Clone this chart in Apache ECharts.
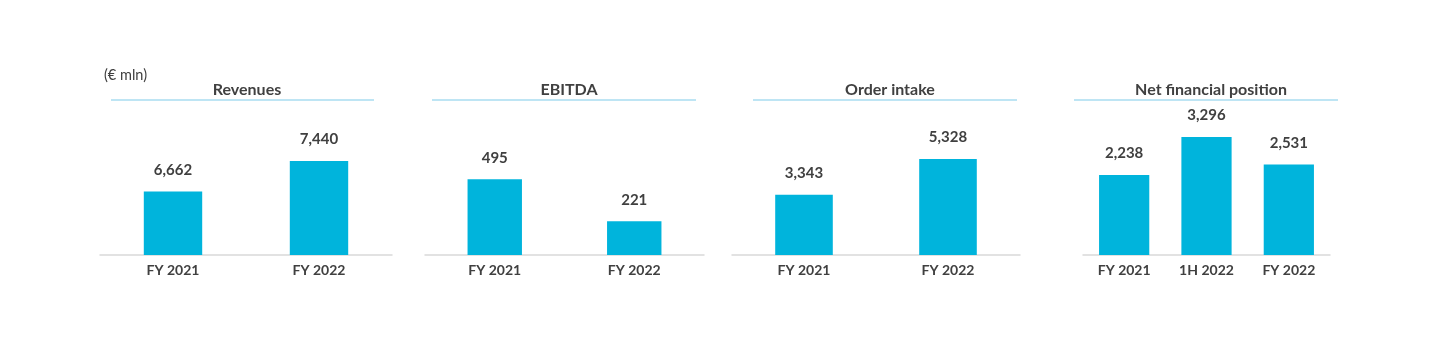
<!DOCTYPE html>
<html>
<head>
<meta charset="utf-8">
<script src="https://cdn.jsdelivr.net/npm/echarts@6/dist/echarts.min.js"></script>
<style>
html,body{margin:0;padding:0;background:#fff;}
#chart{width:1440px;height:355px;}
</style>
</head>
<body>
<div id="chart"></div>
<script>
// ---- data ----
const unitLabel = '(€ mln)';
const revenuesTitle = 'Revenues';
const revenuesCats = ['FY 2021', 'FY 2022'];
const revenuesVals = [6662, 7440];

const ebitdaTitle = 'EBITDA';
const ebitdaCats = ['FY 2021', 'FY 2022'];
const ebitdaVals = [495, 221];

const orderTitle = 'Order intake';
const orderCats = ['FY 2021', 'FY 2022'];
const orderVals = [3343, 5328];

const nfpTitle = 'Net financial position';
const nfpCats = ['FY 2021', '1H 2022', 'FY 2022'];
const nfpVals = [2238, 3296, 2531];

// ---- layout/style ----
const FONT = 'Lato, "Open Sans", sans-serif';
const TXT = '#404040';
const BAR = '#00B4DC';
const panels = [
  {title: revenuesTitle, cats: revenuesCats, vals: revenuesVals, left: 100, width: 292, min: 5050, max: 8864, bw: '40%', tc: 242, ul: [111, 374]},
  {title: ebitdaTitle, cats: ebitdaCats, vals: ebitdaVals, left: 425, width: 279, min: 0, max: 980, bw: '39%', tc: 564, ul: [432, 696]},
  {title: orderTitle, cats: orderCats, vals: orderVals, left: 732, width: 288, min: 0, max: 8333, bw: '40%', tc: 885, ul: [753, 1017]},
  {title: nfpTitle, cats: nfpCats, vals: nfpVals, left: 1083, width: 247, min: 0, max: 4190, bw: '61%', tc: 1206, ul: [1074, 1338]}
];

const chart = echarts.init(document.getElementById('chart'), null, {renderer: 'canvas'});
const option = {
  animation: false,
  backgroundColor: '#ffffff',
  title: [
    {text: unitLabel, left: 99, top: 63, textStyle: {fontFamily: FONT, fontSize: 14.5, fontWeight: 'normal', color: TXT}}
  ].concat(panels.map(p => ({
    text: p.title, left: p.tc, top: 77, textAlign: 'center',
    textStyle: {fontFamily: FONT, fontSize: 16, fontWeight: 'bold', color: TXT}
  }))),
  grid: panels.map(p => ({left: p.left, width: p.width, top: 105, bottom: 100})),
  xAxis: panels.map((p, i) => ({
    type: 'category', gridIndex: i, data: p.cats,
    axisLine: {lineStyle: {color: '#D9D9D9', width: 1.5}},
    axisTick: {show: false},
    axisLabel: {margin: 8, fontFamily: FONT, fontSize: 14, fontWeight: 'bold', color: TXT}
  })),
  yAxis: panels.map((p, i) => ({
    type: 'value', gridIndex: i, min: p.min, max: p.max, show: false, splitLine: {show: false}
  })),
  series: panels.map((p, i) => ({
    type: 'bar', xAxisIndex: i, yAxisIndex: i, data: p.vals, barWidth: p.bw,
    itemStyle: {color: BAR},
    label: {
      show: true, position: 'top', distance: 14,
      fontFamily: FONT, fontSize: 15, fontWeight: 'bold', color: TXT,
      formatter: d => d.value.toLocaleString('en-US')
    }
  })),
  graphic: panels.map(p => ({
    type: 'line', shape: {x1: p.ul[0], y1: 100, x2: p.ul[1], y2: 100},
    style: {stroke: '#7FCBEA', lineWidth: 1.2}
  }))
};
chart.setOption(option);
</script>
</body>
</html>
